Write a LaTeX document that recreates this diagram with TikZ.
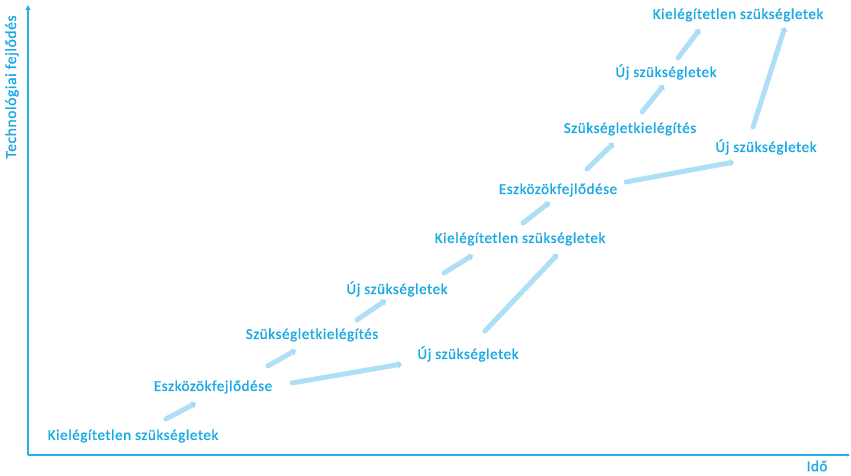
\documentclass[tikz,border=0pt]{standalone}
\usepackage{fontspec}
\setmainfont[LetterSpace=4,FakeBold=1.2]{Carlito}
\usetikzlibrary{arrows.meta}
\definecolor{txtblue}{HTML}{1AA9E3}
\definecolor{axblue}{HTML}{22B2EA}
\definecolor{arrblue}{HTML}{A6DBF5}
\tikzset{
  lbl/.style={font=\fontsize{15}{17}\selectfont, text=txtblue, inner sep=1pt},
  flow/.style={draw=arrblue, line width=5pt, line cap=round, -{Triangle[length=4pt,width=8pt]}, opacity=0.9},
  axis/.style={draw=axblue, line width=1.3pt}
}
\begin{document}
\begin{tikzpicture}[x=1pt,y=-1pt]
\useasboundingbox (0,0) rectangle (851,476);
% axes
\coordinate (o) at (28,455);
\coordinate (ytop) at (28,5);
\coordinate (xend) at (850,455);
\draw[axis,-{Triangle[length=5pt,width=5pt]}] (o) -- (ytop);
\draw[axis,-{Triangle[length=3pt,width=3pt]}] (o) -- (xend);
\node[lbl, rotate=90, font=\fontsize{15.5}{17}\selectfont] (ylab) at (12,87) {Technológiai fejlődés};
\node[lbl] (xlab) at (817,466) {Idő};
% labels
\node[lbl] (n1) at (133,436) {Kielégítetlen szükségletek};
\node[lbl] (n2) at (213,387) {Eszközökfejlődése};
\node[lbl] (n3) at (312,335) {Szükségletkielégítés};
\node[lbl] (n4) at (397,289) {Új szükségletek};
\node[lbl] (n5) at (520,239) {Kielégítetlen szükségletek};
\node[lbl] (n6) at (558,190) {Eszközökfejlődése};
\node[lbl] (n7) at (630,129) {Szükségletkielégítés};
\node[lbl] (n8) at (666,72) {Új szükségletek};
\node[lbl] (n9) at (738,15) {Kielégítetlen szükségletek};
\node[lbl] (n10) at (468,354) {Új szükségletek};
\node[lbl] (n11) at (766,147) {Új szükségletek};
% arrow endpoints
\coordinate (a1) at (166,419); \coordinate (b1) at (196,403);
\coordinate (a2) at (268,366); \coordinate (b2) at (296,350);
\coordinate (a3) at (357,320); \coordinate (b3) at (386,300);
\coordinate (a4) at (444,273); \coordinate (b4) at (473,255);
\coordinate (a5) at (523,223); \coordinate (b5) at (550,202);
\coordinate (a6) at (587,169); \coordinate (b6) at (614,143);
\coordinate (a7) at (642,112); \coordinate (b7) at (664,85);
\coordinate (a8) at (678,58); \coordinate (b8) at (700,29);
\coordinate (a9) at (292,383); \coordinate (b9) at (402,364);
\coordinate (a10) at (485,331); \coordinate (b10) at (558,254);
\coordinate (a11) at (626,182); \coordinate (b11) at (734,162);
\coordinate (a12) at (753,127); \coordinate (b12) at (785,27);
\foreach \i in {1,...,12} {\draw[flow] (a\i) -- (b\i);}
\end{tikzpicture}
\end{document}
